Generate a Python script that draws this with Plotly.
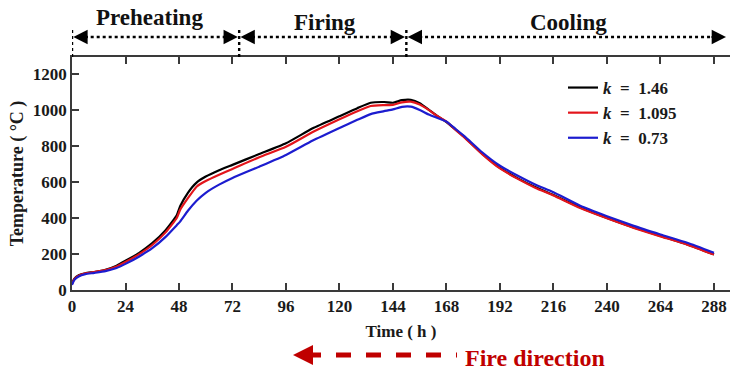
import plotly.graph_objects as go

# ---------------- data ----------------
time_h = [0, 1, 3, 6, 10, 15, 20, 24, 30, 36, 42, 47, 48.5, 52, 56, 60, 66, 72, 84, 96,
          108, 120, 128, 134, 140, 144, 148, 152, 156, 160, 164, 168, 172, 176, 184,
          192, 200, 208, 216, 228, 240, 252, 264, 276, 288]

temp_k146 = [35, 62, 82, 93, 100, 112, 135, 162, 205, 260, 332, 415, 465, 540, 598,
             630, 665, 695, 755, 815, 898, 965, 1010, 1040, 1044, 1040, 1054, 1056, 1038,
             1002, 965, 933, 892, 850, 757, 678, 620, 570, 527, 458, 400, 347, 300, 253, 198]

temp_k1095 = [33, 60, 80, 92, 100, 110, 130, 155, 198, 250, 320, 400, 445, 510, 575,
              605, 640, 672, 737, 795, 877, 948, 993, 1022, 1027, 1028, 1042, 1046, 1030,
              1000, 965, 935, 890, 848, 755, 675, 617, 567, 525, 455, 398, 345, 298, 252, 197]

temp_k073 = [28, 55, 75, 88, 95, 105, 122, 145, 185, 232, 295, 360, 380, 440, 497,
             540, 585, 622, 685, 750, 830, 900, 945, 977, 993, 1003, 1017, 1018, 1000,
             975, 955, 935, 895, 855, 765, 690, 635, 585, 543, 468, 410, 356, 308, 262, 207]

series_names = ["<i>k</i>  =  1.46", "<i>k</i>  =  1.095", "<i>k</i>  =  0.73"]
series_colors = ["#000000", "#e3151b", "#1c1ccf"]

x_ticks = [0, 24, 48, 72, 96, 120, 144, 168, 192, 216, 240, 264, 288]
y_ticks = [0, 200, 400, 600, 800, 1000, 1200]

phase_names = ["Preheating", "Firing", "Cooling"]
phase_bounds = [0, 75, 150, 294]

# ---------------- figure ----------------
FONT = "Liberation Serif"
TXT = "#1a1a1a"
fig = go.Figure()
for vals, name, col in zip([temp_k146, temp_k1095, temp_k073], series_names, series_colors):
    fig.add_trace(go.Scatter(x=time_h, y=vals, mode="lines", name=name,
                             line=dict(color=col, width=2.2), line_shape="spline",
                             line_smoothing=0.5))

axis_col = "#3a3a3a"
fig.update_xaxes(range=[0, 295.2], tickvals=x_ticks, ticks="inside", ticklen=7,
                 tickwidth=1.5, tickcolor=axis_col, showline=True, linecolor=axis_col,
                 linewidth=1.8, mirror="ticks", showgrid=False, zeroline=False,
                 automargin=False,
                 title=dict(text="Time ( h )",
                            font=dict(size=17, family=FONT, color=TXT, weight="bold"),
                            standoff=10),
                 tickfont=dict(size=17, family=FONT, color=TXT, weight="bold"))
fig.update_yaxes(range=[0, 1294], tickvals=y_ticks, ticks="inside", ticklen=7,
                 tickwidth=1.5, tickcolor=axis_col, showline=True, linecolor=axis_col,
                 linewidth=1.8, showgrid=False, zeroline=False, automargin=False,
                 title=dict(text="Temperature ( °C )",
                            font=dict(size=18, family=FONT, color=TXT, weight="bold"),
                            standoff=4),
                 tickfont=dict(size=17, family=FONT, color=TXT, weight="bold"))

# phase markers on top
def py(px):
    return (290 - px) / 233.0

arrow_y = py(37)
for i, name in enumerate(phase_names):
    x0, x1 = phase_bounds[i], phase_bounds[i + 1]
    fig.add_shape(type="line", xref="x", yref="paper", x0=x0 + 3, x1=x1 - 3,
                  y0=arrow_y, y1=arrow_y, line=dict(color="black", width=2.4, dash="dot"))
    fig.add_annotation(xref="x", yref="paper", x=x0 + 0.6, y=arrow_y, ax=16, ay=0,
                       showarrow=True, arrowhead=2, arrowsize=1.3, arrowwidth=2.2,
                       arrowcolor="black", text="")
    fig.add_annotation(xref="x", yref="paper", x=x1 - 0.6, y=arrow_y, ax=-16, ay=0,
                       showarrow=True, arrowhead=2, arrowsize=1.3, arrowwidth=2.2,
                       arrowcolor="black", text="")
    ty = py(17) if i == 0 else py(22)
    fig.add_annotation(xref="x", yref="paper", x=(x0 + x1) / 2 + (-2.7 if i == 0 else 0.8), y=ty,
                       xanchor="center", yanchor="middle",
                       text="<b>%s</b>" % name, showarrow=False,
                       font=dict(size=23, family=FONT, color="#111"))

for xb, top in zip(phase_bounds[:3], [py(27), py(30), py(30)]):
    fig.add_shape(type="line", xref="x", yref="paper", x0=xb, x1=xb, y0=1.0, y1=top,
                  line=dict(color="black", width=2.4, dash="dot"))

# fire direction
fire_col = "#c00000"
fy = py(355)
fig.add_shape(type="line", xref="paper", yref="paper", x0=(306 - 72) / 658.0,
              x1=(457 - 72) / 658.0, y0=fy, y1=fy,
              line=dict(color=fire_col, width=5, dash="dash"))
fig.add_annotation(xref="paper", yref="paper", x=(293 - 72) / 658.0, y=fy, ax=22, ay=0,
                   showarrow=True, arrowhead=2, arrowsize=1.0, arrowwidth=4,
                   arrowcolor=fire_col, text="")
fig.add_annotation(xref="paper", yref="paper", x=(463 - 72) / 658.0, y=py(358),
                   xanchor="left", yanchor="middle", text="<b>Fire direction</b>",
                   showarrow=False, font=dict(size=24, family=FONT, color=fire_col))

fig.update_layout(
    width=730, height=373,
    margin=dict(l=72, r=0, t=57, b=83),
    paper_bgcolor="white", plot_bgcolor="white",
    showlegend=True,
    legend=dict(x=(563 - 72) / 658.0, y=py(70), xanchor="left", yanchor="top",
                bgcolor="rgba(0,0,0,0)", tracegroupgap=0,
                font=dict(size=17, family=FONT, color=TXT, weight="bold")),
    font=dict(family=FONT),
)

fig.write_html("out.html", config={"displayModeBar": False},
               post_script="document.body.style.margin='0';document.body.style.overflow='hidden';")
